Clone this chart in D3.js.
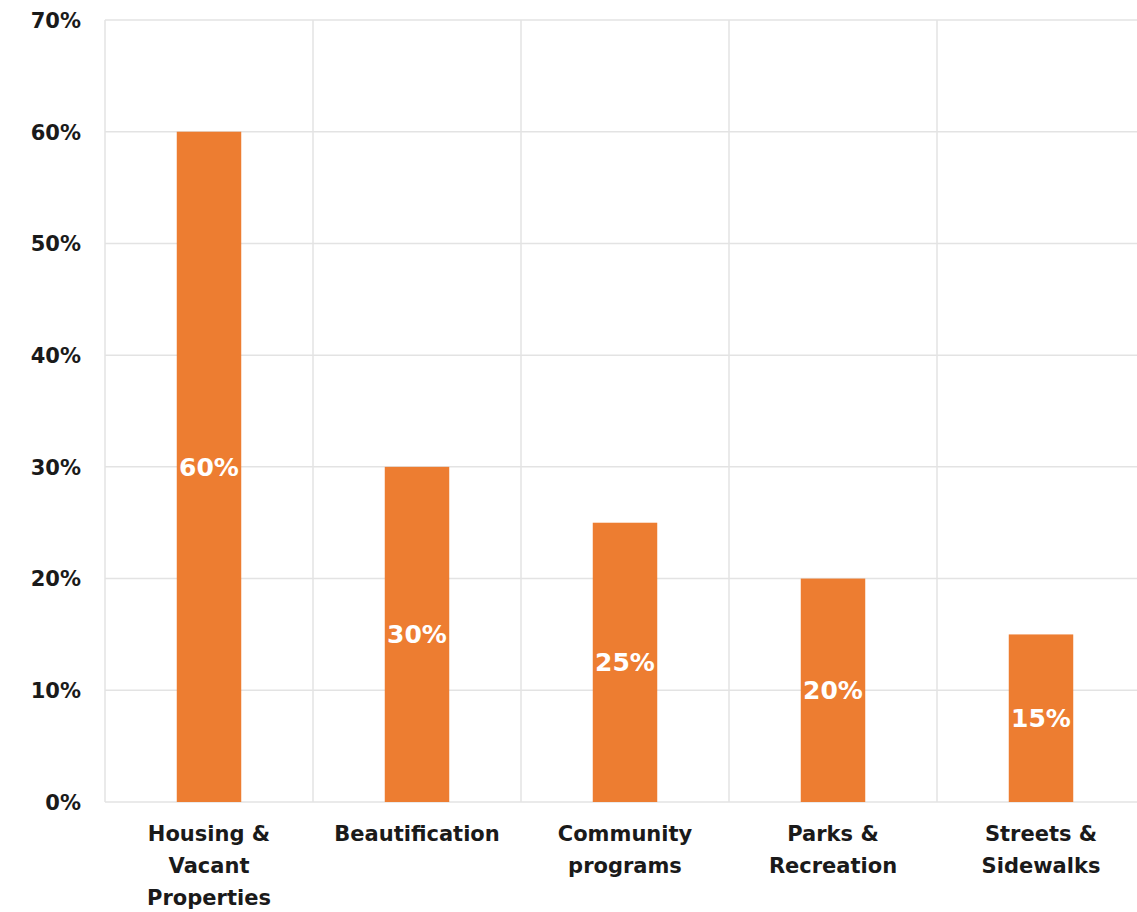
<!DOCTYPE html>
<html>
<head>
<meta charset="utf-8">
<script src="https://cdn.jsdelivr.net/npm/d3@7"></script>
<style>
  html, body { margin: 0; padding: 0; background: #fff; }
  svg { display: block; }
  text { font-family: "Century Gothic", "DejaVu Sans", sans-serif; font-weight: 700; }
</style>
</head>
<body>
<svg id="chart" width="1137" height="912"></svg>
<script>
// Share of responses by topic
const categories = [
  ["Housing &", "Vacant", "Properties"],
  ["Beautification"],
  ["Community", "programs"],
  ["Parks &", "Recreation"],
  ["Streets &", "Sidewalks"]
];
const values = [60, 30, 25, 20, 15];
const yTicks = [0, 10, 20, 30, 40, 50, 60, 70];

const W = 1137, H = 912;
const margin = { left: 105, top: 20, bottom: 110 };
const plotRight = 1145;

const svg = d3.select("#chart");

const x = d3.scaleBand()
  .domain(d3.range(categories.length))
  .range([margin.left, plotRight])
  .paddingInner(0)
  .paddingOuter(0);

const y = d3.scaleLinear()
  .domain([0, 70])
  .range([H - margin.bottom, margin.top]);

const grid = svg.append("g");

// horizontal gridlines
grid.selectAll("line.h")
  .data(yTicks)
  .join("line")
  .attr("x1", margin.left).attr("x2", plotRight)
  .attr("y1", d => y(d)).attr("y2", d => y(d))
  .attr("stroke", "#e3e3e3").attr("stroke-width", 1.5);

// vertical gridlines at band boundaries
const bounds = d3.range(categories.length + 1).map(i => margin.left + i * x.bandwidth());
grid.selectAll("line.v")
  .data(bounds)
  .join("line")
  .attr("x1", d => d).attr("x2", d => d)
  .attr("y1", y(70)).attr("y2", y(0))
  .attr("stroke", "#e3e3e3").attr("stroke-width", 1.5);

// y axis labels
const yAxis = d3.axisLeft(y).tickValues(yTicks).tickFormat(d => d + "%").tickSize(0).tickPadding(0);
const ya = svg.append("g").attr("transform", `translate(81,0)`).call(yAxis);
ya.select(".domain").remove();
ya.selectAll("text")
  .attr("font-size", 21).attr("fill", "#1a1a1a")
  .attr("dy", "0.35em")
  .style("font-family", "'Century Gothic', 'DejaVu Sans', sans-serif")
  .style("font-weight", 700);

// bars
const barW = x.bandwidth() * 0.31;
svg.append("g").selectAll("rect")
  .data(values)
  .join("rect")
  .attr("x", (d, i) => x(i) + (x.bandwidth() - barW) / 2)
  .attr("width", barW)
  .attr("y", d => y(d))
  .attr("height", d => y(0) - y(d))
  .attr("fill", "#ED7D31");

// value labels centered in bars
svg.append("g").selectAll("text")
  .data(values)
  .join("text")
  .attr("x", (d, i) => x(i) + x.bandwidth() / 2)
  .attr("y", d => (y(d) + y(0)) / 2)
  .attr("dy", "0.36em")
  .attr("text-anchor", "middle")
  .attr("font-size", 25)
  .attr("fill", "#fff")
  .text(d => d + "%");

// category labels
const cat = svg.append("g").selectAll("text")
  .data(categories)
  .join("text")
  .attr("text-anchor", "middle")
  .attr("font-size", 21)
  .attr("fill", "#1a1a1a");
cat.each(function (lines, i) {
  d3.select(this).selectAll("tspan")
    .data(lines)
    .join("tspan")
    .attr("x", x(i) + x.bandwidth() / 2)
    .attr("y", (d, j) => 841 + j * 32)
    .text(d => d);
});
</script>
</body>
</html>
